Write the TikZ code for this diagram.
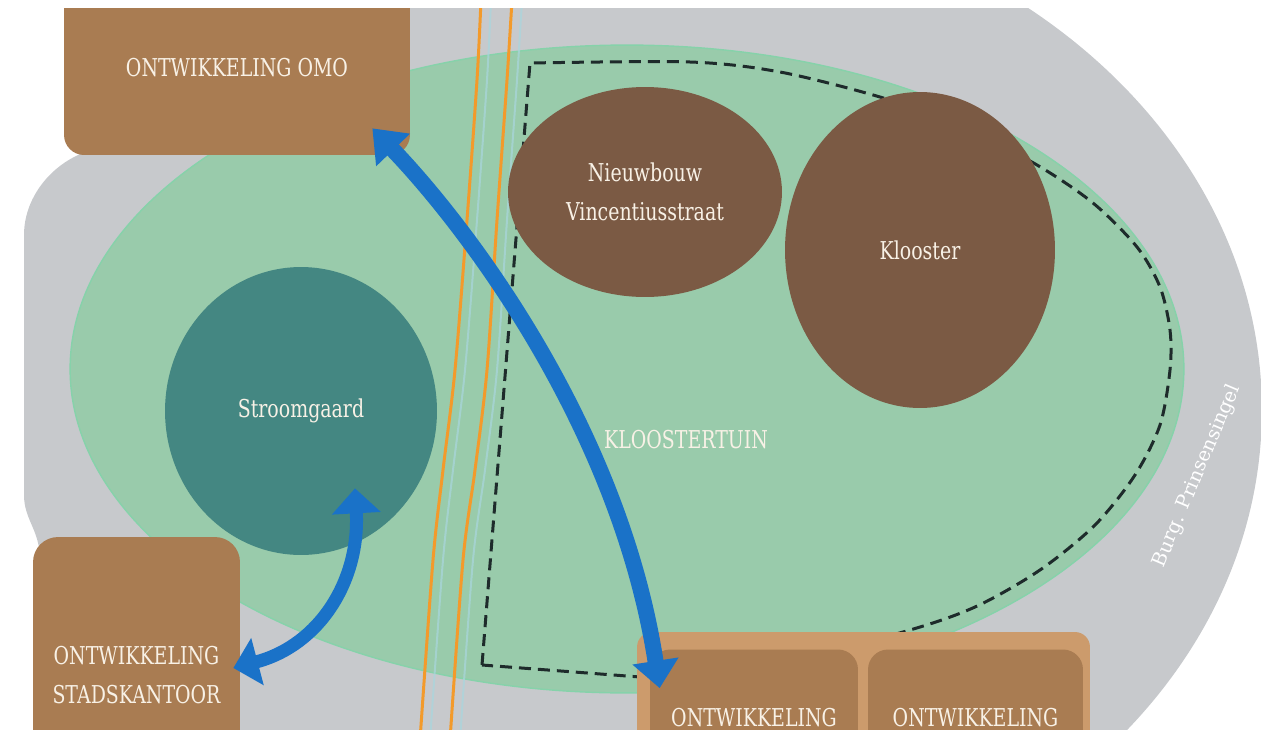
\documentclass[tikz,border=0pt]{standalone}
\usepackage{fontspec}
\usepackage{graphicx}
\setmainfont{DejaVu Serif}
\usetikzlibrary{shapes.geometric,arrows.meta}
\definecolor{road}{HTML}{C7C9CC}
\definecolor{garden}{HTML}{99CBAB}
\definecolor{gardenrim}{HTML}{86D2AA}
\definecolor{cteal}{HTML}{448782}
\definecolor{cbrown}{HTML}{7B5A44}
\definecolor{cbox}{HTML}{A97C52}
\definecolor{cframe}{HTML}{CC9B6C}
\definecolor{cblue}{HTML}{1A72C8}
\definecolor{corange}{HTML}{F39A2B}
\definecolor{cpale}{HTML}{A9D6DE}
\definecolor{cdash}{HTML}{1E2B2B}
\definecolor{ctext}{HTML}{F8F1E6}
\newcommand{\cx}[1]{\scalebox{0.77}[1]{#1}}
\begin{document}
\begin{tikzpicture}[x=0.02cm,y=-0.02cm,
  lbl/.style={text=ctext,font=\fontsize{14}{22}\selectfont,align=center},
  blob/.style={ellipse,inner sep=0pt,lbl},
  devbox/.style={rectangle,fill=cbox,rounded corners=0.4cm,inner sep=0pt,lbl},
  flow/.style={draw=cblue,line width=0.32cm},
  rail/.style={draw=corange,line width=0.06cm},
  railedge/.style={draw=cpale,line width=0.04cm,opacity=0.7},
  border/.style={draw=cdash,line width=0.06cm,dash pattern=on 0.24cm off 0.14cm}]
\useasboundingbox (0,0) rectangle (1261,730);
\clip (0,8) rectangle (1261,730);
% road ring
\begin{scope}
\clip (24,0) rectangle (1300,800);
\fill[road] (642,410) ellipse [x radius=12.4cm, y radius=10.28cm];
\end{scope}
\fill[road] (300,8) -- (80,8) -- (92,150) .. controls (55,160) and (24,195) .. (24,235) -- (24,495) .. controls (24,520) and (40,530) .. (40,560) -- (40,730) -- (300,730) -- cycle;
% garden
\fill[garden] (627,369) ellipse [x radius=11.14cm, y radius=6.48cm];
\draw[gardenrim,line width=0.8pt] (627,369) ellipse [x radius=11.14cm, y radius=6.48cm];
% rails
\draw[railedge] plot[smooth] coordinates {(491,0) (487,80) (477,220) (465,370) (453,470) (443,560) (430,740)};
\draw[railedge] plot[smooth] coordinates {(522,0) (517,80) (507,220) (497,370) (485,470) (473,560) (460,740)};
\draw[rail] plot[smooth] coordinates {(481,0) (477,80) (467,220) (455,370) (443,470) (433,560) (420,740)};
\draw[rail] plot[smooth] coordinates {(512,0) (507,80) (497,220) (487,370) (475,470) (463,560) (450,740)};
% dashed border
\draw[border] (482,665) -- (530,63) -- plot[smooth] coordinates {(530,63) (690,62) (780,72) (880,97) (960,125) (1037,165) (1093,203) (1137,247) (1160,287) (1170,330) (1170,370) (1160,425) (1135,475) (1095,525) (1040,570) (975,607) (903,632) (760,668) (640,677)} -- cycle;
% buildings
\node[blob,fill=cteal,minimum width=5.44cm,minimum height=5.76cm] (stroom) at (301,411) {\cx{Stroomgaard}};
\node[blob,fill=cbrown,minimum width=5.48cm,minimum height=4.2cm] (nieuw) at (645,192) {\cx{Nieuwbouw}\\\cx{Vincentiusstraat}};
\node[blob,fill=cbrown,minimum width=5.4cm,minimum height=6.32cm] (klooster) at (920,250) {\cx{Klooster}};
\node[lbl] (tuin) at (686,440) {\cx{KLOOSTERTUIN}};
% development boxes
\node[devbox,minimum width=6.92cm,minimum height=3.5cm] (omo) at (237,67.5) {\cx{ONTWIKKELING OMO}};
\node[devbox,rounded corners=0.5cm,minimum width=4.14cm,minimum height=5.52cm] (stad) at (136.5,675) {\cx{ONTWIKKELING}\\\cx{STADSKANTOOR}};
\node[fill=cframe,rounded corners=0.3cm,minimum width=9.06cm,minimum height=4cm,inner sep=0pt] (frame) at (863.5,732) {};
\node[devbox,minimum width=4.16cm,minimum height=2.74cm] (dev1) at (754,718) {\cx{ONTWIKKELING}};
\node[devbox,minimum width=4.3cm,minimum height=2.74cm] (dev2) at (975.5,718) {\cx{ONTWIKKELING}};
% flows
\draw[flow,{Triangle[width=0.9cm,length=0.6cm]}-{Triangle[width=0.9cm,length=0.55cm]}] ([shift={(-38,-27)}]omo.south east) .. controls (470,230) and (620,430) .. ([shift={(10,39)}]dev1.north west);
\draw[flow,line width=0.26cm,{Triangle[width=0.95cm,length=0.5cm]}-{Triangle[width=0.95cm,length=0.5cm]}] ([shift={(54,-67)}]stroom.south) .. controls (360,580) and (320,645) .. ([shift={(-7,-7)}]stad.east);
% road name
\node[text=white,font=\fontsize{11}{13}\selectfont,rotate=67] (burg) at (1197,476) {Burg. Prinsensingel};
\end{tikzpicture}
\end{document}
